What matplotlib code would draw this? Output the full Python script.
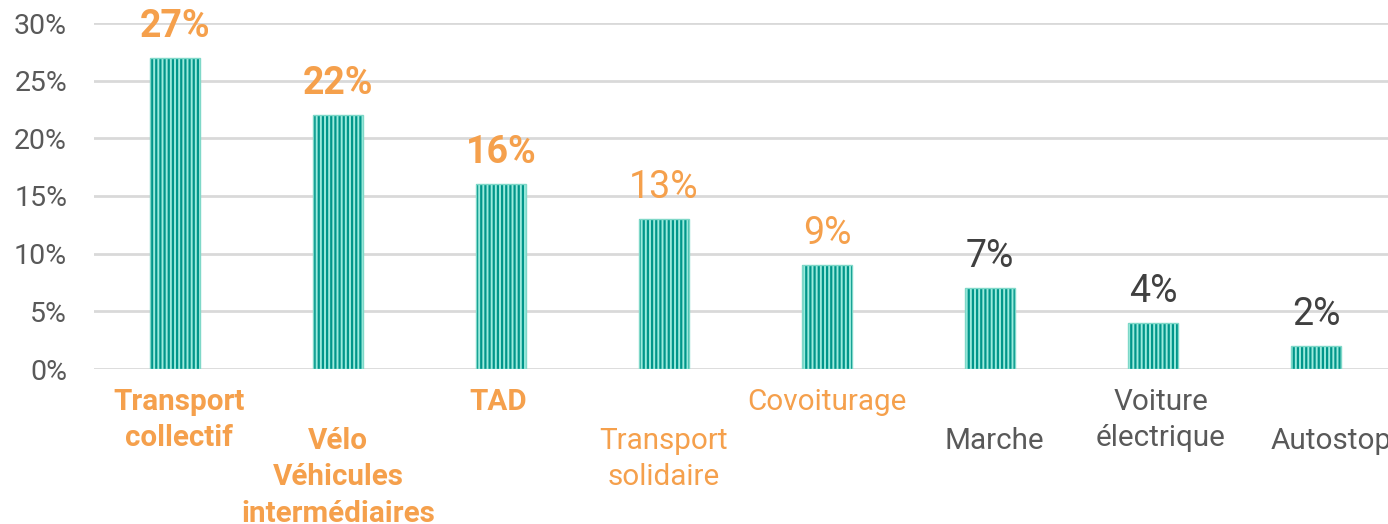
import matplotlib
matplotlib.use("Agg")
import matplotlib.pyplot as plt
from matplotlib.ticker import FuncFormatter

categories = ["Transport\ncollectif", "Vélo\nVéhicules\nintermédiaires", "TAD",
              "Transport\nsolidaire", "Covoiturage", "Marche",
              "Voiture\nélectrique", "Autostop"]
values = [27, 22, 16, 13, 9, 7, 4, 2]
label_colors = ["#F5A04C"] * 5 + ["#595959"] * 3
value_colors = ["#F5A04C"] * 5 + ["#404040"] * 3
bold = [True, True, True, False, False, False, False, False]
yticks = [0, 5, 10, 15, 20, 25, 30]

plt.rcParams['font.family'] = ['Roboto', 'DejaVu Sans']
plt.rcParams['hatch.linewidth'] = 1.6

W, H = 1388, 524
fig = plt.figure(figsize=(W / 100, H / 100), dpi=100)
ax = fig.add_axes([93.5 / W, (H - 369) / H, 1304 / W, 346 / H])

x = list(range(len(values)))
ax.bar(x, values, width=0.31, color="#9BEBDD", edgecolor="#00968A",
       linewidth=0, hatch="||||", zorder=3)
ax.bar(x, values, width=0.31, color="none", edgecolor="#7FD8C8",
       linewidth=1.0, zorder=4)

ax.set_xlim(-0.5, len(values) - 0.5)
ax.set_ylim(0, 30)
ax.set_yticks(yticks)
ax.yaxis.set_major_formatter(FuncFormatter(lambda v, p: f"{int(v)}%"))
ax.tick_params(axis='y', length=0, pad=19, labelsize=20.5, labelcolor="#595959")
ax.set_xticks([])
ax.grid(axis='y', color="#D9D9D9", linewidth=2, zorder=0)
for s in ax.spines.values():
    s.set_visible(False)

x_shift = [4, 0, -3, 0, 0, 4, 8, 15]
for i, (v, lab) in enumerate(zip(values, categories)):
    fw = 'bold' if bold[i] else 'normal'
    ax.annotate(f"{v}%", xy=(i, v), xytext=(0, 21), textcoords='offset pixels',
                ha='center', va='baseline', fontsize=27, color=value_colors[i],
                fontweight=fw, annotation_clip=False)
    off = 19 if i % 2 == 0 else 58
    ax.annotate(lab, xy=(i, 0), xycoords=('data', 'axes fraction'),
                xytext=(x_shift[i], -off), textcoords='offset pixels',
                ha='center', va='top', multialignment='center',
                fontsize=21.3, color=label_colors[i], fontweight=fw,
                linespacing=1.38, annotation_clip=False)

fig.savefig("out.png", dpi=100)
